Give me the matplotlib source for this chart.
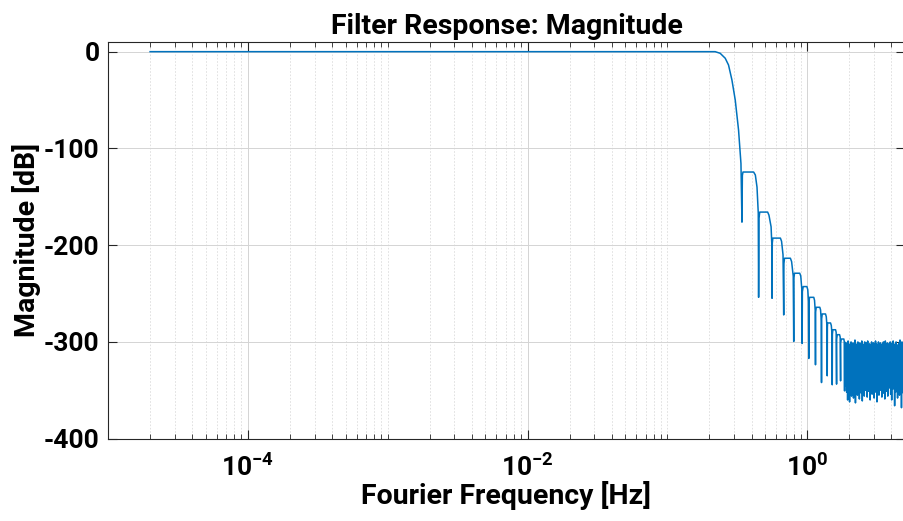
import numpy as np
import matplotlib
matplotlib.use("Agg")
import matplotlib.pyplot as plt
from matplotlib.ticker import NullFormatter, FixedLocator

plt.rcParams['font.family'] = ['Roboto', 'DejaVu Sans']
plt.rcParams['font.weight'] = 'bold'
plt.rcParams['axes.unicode_minus'] = False
plt.rcParams['mathtext.fontset'] = 'custom'
plt.rcParams['mathtext.rm'] = 'Roboto:bold'
plt.rcParams['mathtext.bf'] = 'Roboto:bold'
plt.rcParams['mathtext.it'] = 'Roboto:bold'
plt.rcParams['mathtext.default'] = 'rm'

# passband (flat at 0 dB)
f_pass = [2.0e-5, 0.20]
db_pass = [0.0, 0.0]

# roll-off knee into the first null
f_knee = [0.2199, 0.2388, 0.2594, 0.2739, 0.2897, 0.3060, 0.3231, 0.3361, 0.3417]
db_knee = [0.0, -1.7, -6.8, -13.8, -29.3, -50.1, -81.1, -115.6, -176.2]

# stopband sidelobes (rise, flat top, rounded fall, null)
f_lobes = [
    0.3440, 0.3475, 0.4140, 0.4260, 0.4378, 0.4470, 0.4495,
    0.4525, 0.4580, 0.5216, 0.5330, 0.5520, 0.5590, 0.5609,
    0.5630, 0.5680, 0.6435, 0.6560, 0.6720, 0.6795,
    0.6820, 0.6890, 0.7587, 0.7740, 0.7950, 0.8014,
    0.8040, 0.8120, 0.8849, 0.9000, 0.9160, 0.9207,
    0.9240, 0.9370, 0.9950, 1.0100, 1.0220, 1.0268,
    1.0300, 1.0400, 1.1149, 1.1290, 1.1420, 1.1468,
    1.1500, 1.1610, 1.2313, 1.2470, 1.2610, 1.2664,
    1.2700, 1.2820, 1.3528, 1.3700, 1.3860, 1.3914,
    1.3950, 1.4000, 1.4693, 1.4880, 1.5060, 1.5113,
    1.5150, 1.5270, 1.5959, 1.6120, 1.6226,
    1.6260, 1.6420, 1.7049, 1.7220, 1.7334,
    1.7370, 1.7540, 1.8297, 1.8430, 1.8509,
    1.8560, 1.8660, 1.8750, 1.8850,
]
db_lobes = [
    -128.0, -124.4, -124.4, -127.5, -140.0, -167.0, -253.9,
    -172.0, -165.8, -165.8, -169.0, -181.0, -200.0, -254.9,
    -198.0, -192.7, -192.7, -196.0, -210.0, -272.1,
    -219.0, -213.5, -213.5, -217.0, -232.0, -299.5,
    -234.0, -229.0, -229.0, -232.0, -246.0, -301.6,
    -248.0, -242.8, -242.8, -246.0, -258.0, -317.1,
    -259.0, -253.9, -253.9, -257.0, -268.0, -323.6,
    -269.0, -264.2, -264.2, -267.0, -278.0, -342.0,
    -276.0, -271.1, -271.1, -274.0, -284.0, -335.0,
    -285.0, -280.4, -280.4, -283.0, -292.0, -344.3,
    -292.0, -287.4, -287.4, -290.0, -343.6,
    -297.0, -292.5, -292.5, -295.0, -340.2,
    -301.0, -297.0, -297.0, -300.0, -350.6,
    -300.0, -330.0, -302.0, -345.0,
]

# numerical noise floor above ~1.9 Hz: upper and lower excursions
noise_hi = [-301, -303, -299, -304, -302, -300, -305, -301, -303, -298,
            -302, -304, -300, -303, -301, -305, -299, -302, -304, -300,
            -303, -301, -299, -304, -302, -306, -300, -303, -301, -304,
            -299, -302, -305, -300, -303, -301, -304, -302, -300, -303,
            -299, -305, -301, -302, -304, -300, -303, -301, -299, -304,
            -302, -300, -303, -305, -301, -298, -302, -300, -303, -299, -301]
noise_lo = [-352, -360, -345, -362, -348, -356, -340, -358, -350, -363,
            -344, -355, -349, -359, -342, -353, -361, -347, -356, -350,
            -340, -357, -351, -346, -360, -343, -354, -349, -358, -345,
            -352, -362, -347, -355, -341, -350, -357, -346, -353, -359,
            -344, -351, -356, -348, -342, -354, -360, -349, -345, -366,
            -352, -347, -358, -343, -355, -350, -368, -346, -353, -357]

noise_db = []
for i in range(len(noise_lo)):
    noise_db.append(noise_hi[i])
    noise_db.append(noise_lo[i])
noise_db.append(noise_hi[-1])
f_noise = np.geomspace(1.90, 5.0, len(noise_db))

freq = np.concatenate([f_pass, f_knee, f_lobes, f_noise])
mag = np.concatenate([db_pass, db_knee, db_lobes, noise_db])

major_x = [1e-4, 1e-2, 1e0]
minor_x = [k * 10.0 ** e for e in range(-5, 1) for k in range(1, 10)
           if k * 10.0 ** e not in major_x]

fig = plt.figure(figsize=(9.04, 5.21), dpi=100)
ax = fig.add_axes([0.1195, 0.158, 0.8815, 0.7614])

ax.plot(freq, mag, color='#0072BD', lw=1.1, zorder=3)

ax.set_xscale('log')
ax.set_xlim(1e-5, 5.0)
ax.set_ylim(-400, 10)
ax.yaxis.set_major_locator(FixedLocator([-400, -300, -200, -100, 0]))
ax.xaxis.set_major_locator(FixedLocator(major_x))
ax.xaxis.set_minor_locator(FixedLocator(minor_x))
ax.xaxis.set_minor_formatter(NullFormatter())

ax.grid(True, which='major', color='#d4d4d4', lw=0.7, zorder=0)
ax.grid(True, which='minor', axis='x', color='#dcdcdc', lw=0.6, ls=(0, (2, 2)), zorder=0)

ax.tick_params(which='both', direction='in', top=True, right=True, colors='#262626',
               labelcolor='black', labelsize=19)
ax.tick_params(which='major', length=6.5, width=0.8)
ax.tick_params(which='minor', length=3.6, width=0.6)
ax.tick_params(axis='y', pad=6)
ax.tick_params(axis='x', pad=11)
for s in ax.spines.values():
    s.set_color('#262626')
    s.set_linewidth(0.8)

ax.set_title('Filter Response: Magnitude', fontsize=20.5, fontweight='bold', pad=6)
ax.set_xlabel('Fourier Frequency [Hz]', fontsize=20.5, fontweight='bold', labelpad=0)
ax.set_ylabel('Magnitude [dB]', fontsize=20.5, fontweight='bold', labelpad=2)

fig.savefig('out.png', dpi=100)
